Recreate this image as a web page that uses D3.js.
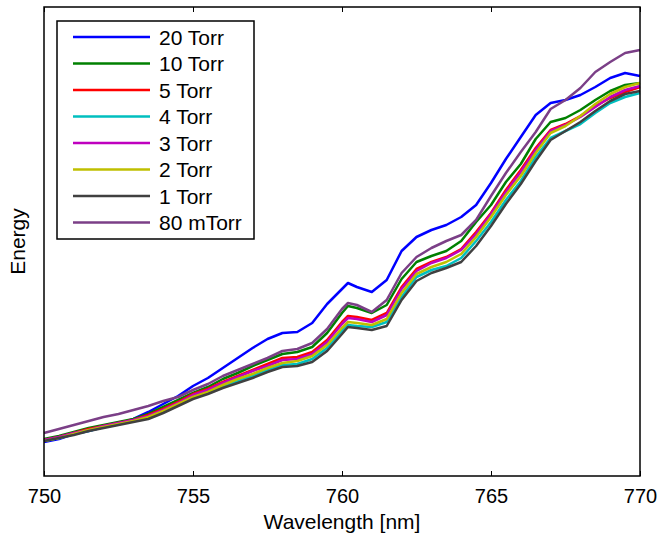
<!DOCTYPE html>
<html>
<head>
<meta charset="utf-8">
<script src="https://cdn.jsdelivr.net/npm/d3@7"></script>
<style>
  body { margin: 0; background: #fff; }
  svg text { font-family: "Liberation Sans", Arial, sans-serif; fill: #000; }
  .axis path, .axis line { stroke: #000; }
</style>
</head>
<body>
<svg id="spectrumChart"></svg>
<script>
// wavelength samples [nm]
let wavelengths = [750, 750.5, 751, 751.5, 752, 752.5, 753, 753.5, 754, 754.5,
  755, 755.5, 756, 756.5, 757, 757.5, 758, 758.5, 759, 759.5,
  760, 760.2, 760.5, 761, 761.5, 762, 762.5, 763, 763.5, 764, 764.5,
  765, 765.5, 766, 766.5, 767, 767.5, 768, 768.5, 769, 769.5, 770];

// energy, arbitrary units
let torr20 = [34, 37, 42, 45, 49, 52, 57, 64, 72, 80, 90, 98, 108, 118, 128, 137, 143, 144, 153, 172,
  187, 193, 189, 184, 196, 225, 239, 246, 251, 259, 271, 293, 317, 339, 361, 373, 376, 381, 389, 398, 403, 400];
let torr10 = [37, 40, 44, 48, 51, 54, 57, 62, 69, 76, 83, 89, 97, 103, 110, 116, 122, 124, 129, 143,
  163, 170, 168, 163, 171, 197, 214, 220, 225, 235, 254, 271, 294, 312, 337, 354, 358, 366, 376, 385, 391, 393];
let torr5 = [36, 39, 43, 47, 50, 53, 56, 61, 67, 74, 82, 87, 94, 100, 106, 112, 118, 119, 124, 136,
  154, 160, 159, 156, 163, 189, 207, 214, 219, 227, 244, 263, 286, 306, 328, 346, 352, 360, 370, 378, 384, 389];
let torr4 = [35, 38, 42, 45, 49, 52, 55, 58, 64, 71, 78, 83, 90, 95, 100, 106, 111, 112, 117, 128,
  145, 151, 150, 149, 154, 179, 199, 206, 210, 218, 235, 254, 276, 295, 319, 338, 345, 352, 363, 373, 379, 383];
let torr3 = [36, 39, 43, 46, 50, 53, 56, 60, 66, 73, 81, 86, 93, 99, 105, 110, 116, 117, 122, 134,
  152, 158, 157, 154, 161, 187, 205, 213, 218, 226, 242, 262, 284, 304, 326, 345, 351, 359, 369, 379, 386, 390];
let torr2 = [35, 38, 42, 46, 49, 52, 55, 59, 65, 72, 79, 84, 91, 97, 102, 108, 113, 115, 120, 131,
  148, 154, 153, 151, 157, 183, 202, 209, 214, 222, 239, 259, 281, 300, 323, 343, 350, 360, 372, 382, 389, 393];
let torr1 = [35, 38, 41, 45, 48, 51, 54, 57, 63, 70, 77, 82, 88, 93, 98, 104, 109, 110, 114, 125,
  142, 149, 148, 146, 150, 176, 195, 203, 208, 214, 230, 250, 272, 292, 315, 336, 345, 354, 365, 375, 382, 385];
let mtorr80 = [43, 47, 51, 55, 59, 62, 66, 70, 75, 79, 86, 92, 100, 106, 112, 118, 125, 127, 133, 147,
  167, 173, 171, 164, 176, 203, 219, 228, 235, 241, 256, 280, 303, 324, 344, 367, 376, 388, 404, 414, 423, 426];

let seriesNames = ["20 Torr", "10 Torr", "5 Torr", "4 Torr", "3 Torr", "2 Torr", "1 Torr", "80 mTorr"];
let seriesValues = [torr20, torr10, torr5, torr4, torr3, torr2, torr1, mtorr80];
let seriesColors = ["#0000ff", "#008000", "#ff0000", "#00bfbf", "#bf00bf", "#bfbf00", "#404040", "#7b3f87"];
let xTicks = [750, 755, 760, 765, 770];

let margin = {top: 7, right: 19, bottom: 62, left: 44};
let chartWidth = 659 - margin.left - margin.right;
let chartHeight = 538 - margin.top - margin.bottom;

let svg = d3.select("#spectrumChart")
    .attr("width", 659)
    .attr("height", 538);

let g = svg.append("g")
    .attr("transform", "translate(" + margin.left + "," + margin.top + ")");

let x = d3.scaleLinear()
    .domain([750, 770])
    .range([0, chartWidth]);

let y = d3.scaleLinear()
    .domain([0, 469])
    .range([chartHeight, 0]);

let series = seriesNames.map((name, i) => ({
    name: name,
    color: seriesColors[i],
    points: wavelengths.map((w, j) => ({w: w, e: seriesValues[i][j]}))
}));

let line = d3.line()
    .x(d => x(d.w))
    .y(d => y(d.e));

g.selectAll(".spectrum")
    .data(series)
  .enter().append("path")
    .attr("class", "spectrum")
    .attr("d", d => line(d.points))
    .attr("fill", "none")
    .attr("stroke", d => d.color)
    .attr("stroke-width", 2.5)
    .attr("stroke-linejoin", "round");

// box
g.append("rect")
    .attr("width", chartWidth)
    .attr("height", chartHeight)
    .attr("fill", "none")
    .attr("stroke", "#000")
    .attr("stroke-width", 1.5);

// inward ticks, bottom with labels, top without
g.append("g")
    .attr("class", "axis")
    .attr("transform", "translate(0," + chartHeight + ")")
    .call(d3.axisBottom(x).tickValues(xTicks).tickSizeInner(-5).tickSizeOuter(0).tickPadding(13))
    .call(a => a.select(".domain").remove())
    .selectAll("text")
    .attr("font-size", 20);

g.append("g")
    .attr("class", "axis")
    .call(d3.axisTop(x).tickValues(xTicks).tickSizeInner(-5).tickSizeOuter(0).tickFormat(""))
    .call(a => a.select(".domain").remove());

g.append("text")
    .text("Wavelength [nm]")
    .attr("x", chartWidth / 2)
    .attr("y", chartHeight + 53)
    .attr("text-anchor", "middle")
    .attr("font-size", 21);

g.append("text")
    .text("Energy")
    .attr("transform", "translate(-19," + (chartHeight / 2) + ") rotate(-90)")
    .attr("text-anchor", "middle")
    .attr("font-size", 21);

// legend
let legend = g.append("g")
    .attr("transform", "translate(13,14)");

legend.append("rect")
    .attr("width", 197)
    .attr("height", 218)
    .attr("fill", "#fff")
    .attr("stroke", "#000")
    .attr("stroke-width", 1.5);

let legendRows = legend.selectAll(".legendRow")
    .data(series)
  .enter().append("g")
    .attr("class", "legendRow")
    .attr("transform", (d, i) => "translate(0," + (16 + i * 26.5) + ")");

legendRows.append("line")
    .attr("x1", 16)
    .attr("x2", 93)
    .attr("stroke", d => d.color)
    .attr("stroke-width", 2.5);

legendRows.append("text")
    .text(d => d.name)
    .attr("x", 102)
    .attr("dy", "0.36em")
    .attr("font-size", 21);
</script>
</body>
</html>
